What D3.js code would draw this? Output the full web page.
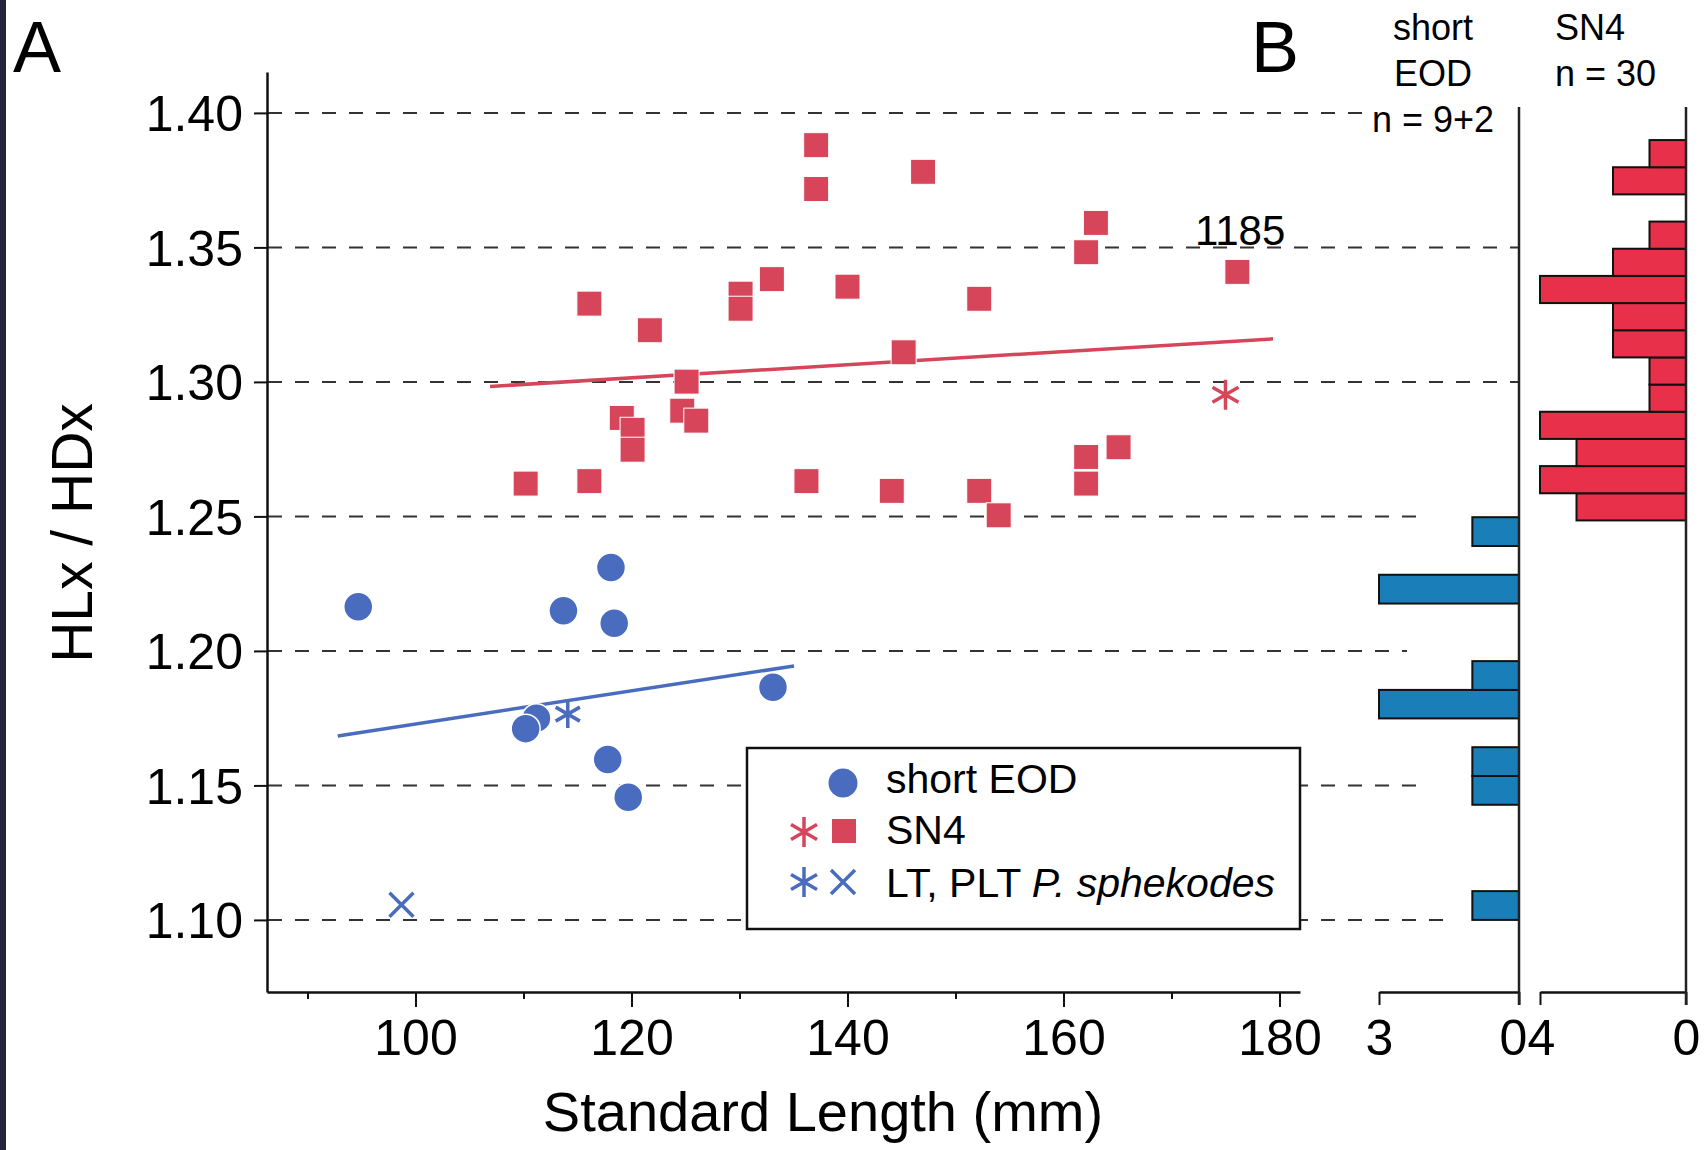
<!DOCTYPE html>
<html>
<head>
<meta charset="utf-8">
<script src="https://cdn.jsdelivr.net/npm/d3@7"></script>
<style>
  body { margin: 0; background: #fff; }
  svg { display: block; font-family: "Liberation Sans", Arial, sans-serif; }
</style>
</head>
<body>
<script>
// values
const sn4Length = [137.1, 137.1, 147.0, 163.0, 162.1, 176.1, 116.1, 121.7, 130.1, 130.1,
                   133.0, 140.0, 152.2, 145.2, 125.1, 119.1, 120.1, 120.1, 124.7, 126.0,
                   110.2, 116.1, 136.2, 144.1, 152.2, 154.0, 165.1, 162.1, 162.1];
const sn4Ratio  = [1.388, 1.3717, 1.3781, 1.3591, 1.3482, 1.3409, 1.3291, 1.3192, 1.3328, 1.3272,
                   1.3382, 1.3354, 1.3309, 1.3110, 1.3001, 1.2866, 1.2822, 1.2748, 1.2893, 1.2856,
                   1.2622, 1.2631, 1.2631, 1.2595, 1.2595, 1.2504, 1.2757, 1.2721, 1.2622];
const sn4StarLength = [175.0];
const sn4StarRatio = [1.2952];

const shortLength = [94.7, 113.7, 118.1, 118.4, 133.1, 111.2, 110.2, 117.8, 119.7];
const shortRatio  = [1.2164, 1.2149, 1.2310, 1.2103, 1.1865, 1.1750, 1.1711, 1.1596, 1.1456];
const ltLength = [114.1];
const ltRatio = [1.1765];
const pltLength = [98.7];
const pltRatio = [1.1056];

const sn4FitLength = [106.9, 179.4];
const sn4FitRatio = [1.2983, 1.3160];
const shortFitLength = [92.8, 135.05];
const shortFitRatio = [1.1684, 1.1944];

// histogram B
const shortBinLo = [1.1000, 1.1428, 1.1535, 1.1749, 1.1855, 1.2176, 1.2390];
const shortBinHi = [1.1107, 1.1535, 1.1642, 1.1855, 1.1962, 1.2283, 1.2497];
const shortCounts = [1, 1, 1, 3, 1, 3, 1];
const sn4BinEdges = [1.2485, 1.2586, 1.2687, 1.2788, 1.2889, 1.2990, 1.3091, 1.3192,
                     1.3293, 1.3394, 1.3495, 1.3596, 1.3697, 1.3798, 1.3899];
const sn4Counts = [3, 4, 3, 4, 1, 1, 2, 2, 4, 2, 1, 0, 2, 1];

const lengthTicks = [100, 120, 140, 160, 180];
const lengthMinor = [90, 110, 130, 150, 170];
const ratioTicks = [1.10, 1.15, 1.20, 1.25, 1.30, 1.35, 1.40];

const red = "#d6455a", blue = "#4a6cbf";
const histRed = "#e8304a", histBlue = "#1a7fb8";

const svg = d3.select("body").append("svg")
    .attr("width", 1705)
    .attr("height", 1150);

svg.append("rect").attr("width", 1705).attr("height", 1150).attr("fill", "#fff");
svg.append("rect").attr("width", 6).attr("height", 1150).attr("fill", "#23263a");

const x = d3.scaleLinear().domain([86.25, 181.9]).range([267, 1300]);
const y = d3.scaleLinear().domain([1.0732, 1.4152]).range([992, 72]);
const xShort = d3.scaleLinear().domain([0, 3]).range([1519, 1379]);
const xSn4 = d3.scaleLinear().domain([0, 4]).range([1686, 1540]);

// dashed gridlines (each stops at a different place in the figure)
const gridEnd = [1443, 1428, 1407, 1420, 1519, 1519, 1363];
svg.append("g")
  .selectAll("line")
  .data(ratioTicks)
  .join("line")
    .attr("x1", 268)
    .attr("x2", (d, i) => gridEnd[i])
    .attr("y1", d => y(d))
    .attr("y2", d => y(d))
    .attr("stroke", "#333")
    .attr("stroke-width", 2)
    .attr("stroke-dasharray", "14,13");

// axes
svg.append("g")
    .attr("transform", "translate(0,992)")
    .call(d3.axisBottom(x).tickValues(lengthTicks).tickSize(15).tickSizeOuter(0).tickPadding(12));
svg.append("g")
    .attr("transform", "translate(0,992)")
    .call(d3.axisBottom(x).tickValues(lengthMinor).tickSize(7).tickFormat(""))
    .call(g => g.select(".domain").remove());
const gy = svg.append("g")
    .attr("transform", "translate(267,0)")
    .call(d3.axisLeft(y).tickValues(ratioTicks).tickSize(13).tickSizeOuter(0).tickPadding(11)
      .tickFormat(d3.format(".2f")));
gy.selectAll("text").attr("dy", "0.36em");

const gShort = svg.append("g")
    .attr("transform", "translate(0,992)")
    .call(d3.axisBottom(xShort).tickValues([3, 0]).tickFormat(d3.format("d"))
      .tickSize(13).tickSizeOuter(0).tickPadding(14));
gShort.selectAll(".tick text").attr("dx", d => d === 0 ? -6 : 0);
const gSn4 = svg.append("g")
    .attr("transform", "translate(0,992)")
    .call(d3.axisBottom(xSn4).tickValues([4, 0]).tickFormat(d3.format("d"))
      .tickSize(13).tickSizeOuter(0).tickPadding(14));
gSn4.selectAll(".tick text").attr("dx", d => d === 4 ? 1 : 0);

svg.selectAll(".domain").attr("stroke", "#111").attr("stroke-width", 2.5);
svg.selectAll(".tick line").attr("stroke", "#111").attr("stroke-width", 2);
svg.selectAll(".tick text").attr("font-size", 50).attr("fill", "#000")
    .attr("font-family", "Liberation Sans, Arial, sans-serif");

// histogram bars
svg.append("g")
  .selectAll("rect")
  .data(shortCounts)
  .join("rect")
    .attr("x", d => xShort(d))
    .attr("y", (d, i) => y(shortBinHi[i]))
    .attr("width", d => xShort(0) - xShort(d))
    .attr("height", (d, i) => y(shortBinLo[i]) - y(shortBinHi[i]))
    .attr("fill", histBlue)
    .attr("stroke", "#111")
    .attr("stroke-width", 2);

svg.append("g")
  .selectAll("rect")
  .data(sn4Counts.map((n, i) => ({n, lo: sn4BinEdges[i], hi: sn4BinEdges[i + 1]})).filter(d => d.n > 0))
  .join("rect")
    .attr("x", d => xSn4(d.n))
    .attr("y", d => y(d.hi))
    .attr("width", d => xSn4(0) - xSn4(d.n))
    .attr("height", d => y(d.lo) - y(d.hi))
    .attr("fill", histRed)
    .attr("stroke", "#111")
    .attr("stroke-width", 2);

// zero lines of the histograms
svg.append("g")
  .selectAll("line")
  .data([xShort(0), xSn4(0)])
  .join("line")
    .attr("x1", d => d).attr("x2", d => d)
    .attr("y1", 107).attr("y2", 1005)
    .attr("stroke", "#222")
    .attr("stroke-width", 2.5);

// regression lines
const line = d3.line().x(d => x(d[0])).y(d => y(d[1]));
svg.append("path")
    .attr("d", line(d3.zip(sn4FitLength, sn4FitRatio)))
    .attr("stroke", red).attr("stroke-width", 3.5).attr("fill", "none");
svg.append("path")
    .attr("d", line(d3.zip(shortFitLength, shortFitRatio)))
    .attr("stroke", blue).attr("stroke-width", 3.5).attr("fill", "none");

// marker shapes
function asterisk(r) {
  const c = r * Math.cos(Math.PI / 6), s = r * 0.5;
  return `M0,${-r}L0,${r}M${-c},${-s}L${c},${s}M${-c},${s}L${c},${-s}`;
}
function cross(r) {
  return `M${-r},${-r}L${r},${r}M${-r},${r}L${r},${-r}`;
}

// SN4 squares
svg.append("g")
  .selectAll("rect")
  .data(d3.zip(sn4Length, sn4Ratio))
  .join("rect")
    .attr("x", d => x(d[0]) - 12.5)
    .attr("y", d => y(d[1]) - 12.5)
    .attr("width", 25)
    .attr("height", 25)
    .attr("fill", red)
    .attr("stroke", "#fff")
    .attr("stroke-width", 1);

svg.append("g")
  .selectAll("path")
  .data(d3.zip(sn4StarLength, sn4StarRatio))
  .join("path")
    .attr("transform", d => `translate(${x(d[0])},${y(d[1])})`)
    .attr("d", asterisk(15))
    .attr("stroke", red).attr("stroke-width", 3.5).attr("fill", "none");

// short EOD circles
svg.append("g")
  .selectAll("circle")
  .data(d3.zip(shortLength, shortRatio))
  .join("circle")
    .attr("cx", d => x(d[0]))
    .attr("cy", d => y(d[1]))
    .attr("r", 14.5)
    .attr("fill", blue)
    .attr("stroke", "#fff")
    .attr("stroke-width", 1.5);

svg.append("g")
  .selectAll("path")
  .data(d3.zip(ltLength, ltRatio))
  .join("path")
    .attr("transform", d => `translate(${x(d[0])},${y(d[1])})`)
    .attr("d", asterisk(14))
    .attr("stroke", blue).attr("stroke-width", 3.5).attr("fill", "none");

svg.append("g")
  .selectAll("path")
  .data(d3.zip(pltLength, pltRatio))
  .join("path")
    .attr("transform", d => `translate(${x(d[0])},${y(d[1])})`)
    .attr("d", cross(12))
    .attr("stroke", blue).attr("stroke-width", 3.5).attr("fill", "none");

svg.append("text")
    .attr("x", 1195).attr("y", 245)
    .attr("font-size", 42)
    .text("1185");

// legend
const legend = svg.append("g");
legend.append("rect")
    .attr("x", 747).attr("y", 748)
    .attr("width", 553).attr("height", 181)
    .attr("fill", "#fff")
    .attr("stroke", "#111")
    .attr("stroke-width", 2.5);
legend.append("circle").attr("cx", 843).attr("cy", 783).attr("r", 14.5).attr("fill", blue);
legend.append("path").attr("transform", "translate(804,832)").attr("d", asterisk(15))
    .attr("stroke", red).attr("stroke-width", 3.5).attr("fill", "none");
legend.append("rect").attr("x", 832).attr("y", 819).attr("width", 24).attr("height", 24).attr("fill", red);
legend.append("path").attr("transform", "translate(804,882)").attr("d", asterisk(15))
    .attr("stroke", blue).attr("stroke-width", 3.5).attr("fill", "none");
legend.append("path").attr("transform", "translate(843,882)").attr("d", cross(12))
    .attr("stroke", blue).attr("stroke-width", 3.5).attr("fill", "none");
legend.append("text").attr("x", 886).attr("y", 793).attr("font-size", 41).text("short EOD");
legend.append("text").attr("x", 886).attr("y", 844).attr("font-size", 41).text("SN4");
const lt = legend.append("text").attr("x", 886).attr("y", 897).attr("font-size", 41);
lt.append("tspan").text("LT, PLT ");
lt.append("tspan").attr("font-style", "italic").text("P. sphekodes");

// titles and panel letters
svg.append("text")
    .attr("x", 823).attr("y", 1131)
    .attr("text-anchor", "middle")
    .attr("font-size", 56)
    .text("Standard Length (mm)");
svg.append("text")
    .attr("transform", "translate(92,533) rotate(-90)")
    .attr("text-anchor", "middle")
    .attr("font-size", 57)
    .text("HLx / HDx");
svg.append("text").attr("x", 13).attr("y", 72).attr("font-size", 72).text("A");
svg.append("text").attr("x", 1251).attr("y", 72).attr("font-size", 72).text("B");

const histHead = svg.append("g").attr("font-size", 36);
histHead.append("text").attr("x", 1433).attr("y", 40).attr("text-anchor", "middle").text("short");
histHead.append("text").attr("x", 1433).attr("y", 86).attr("text-anchor", "middle").text("EOD");
histHead.append("text").attr("x", 1433).attr("y", 132).attr("text-anchor", "middle").text("n = 9+2");
histHead.append("text").attr("x", 1555).attr("y", 40).text("SN4");
histHead.append("text").attr("x", 1555).attr("y", 86).text("n = 30");
</script>
</body>
</html>
